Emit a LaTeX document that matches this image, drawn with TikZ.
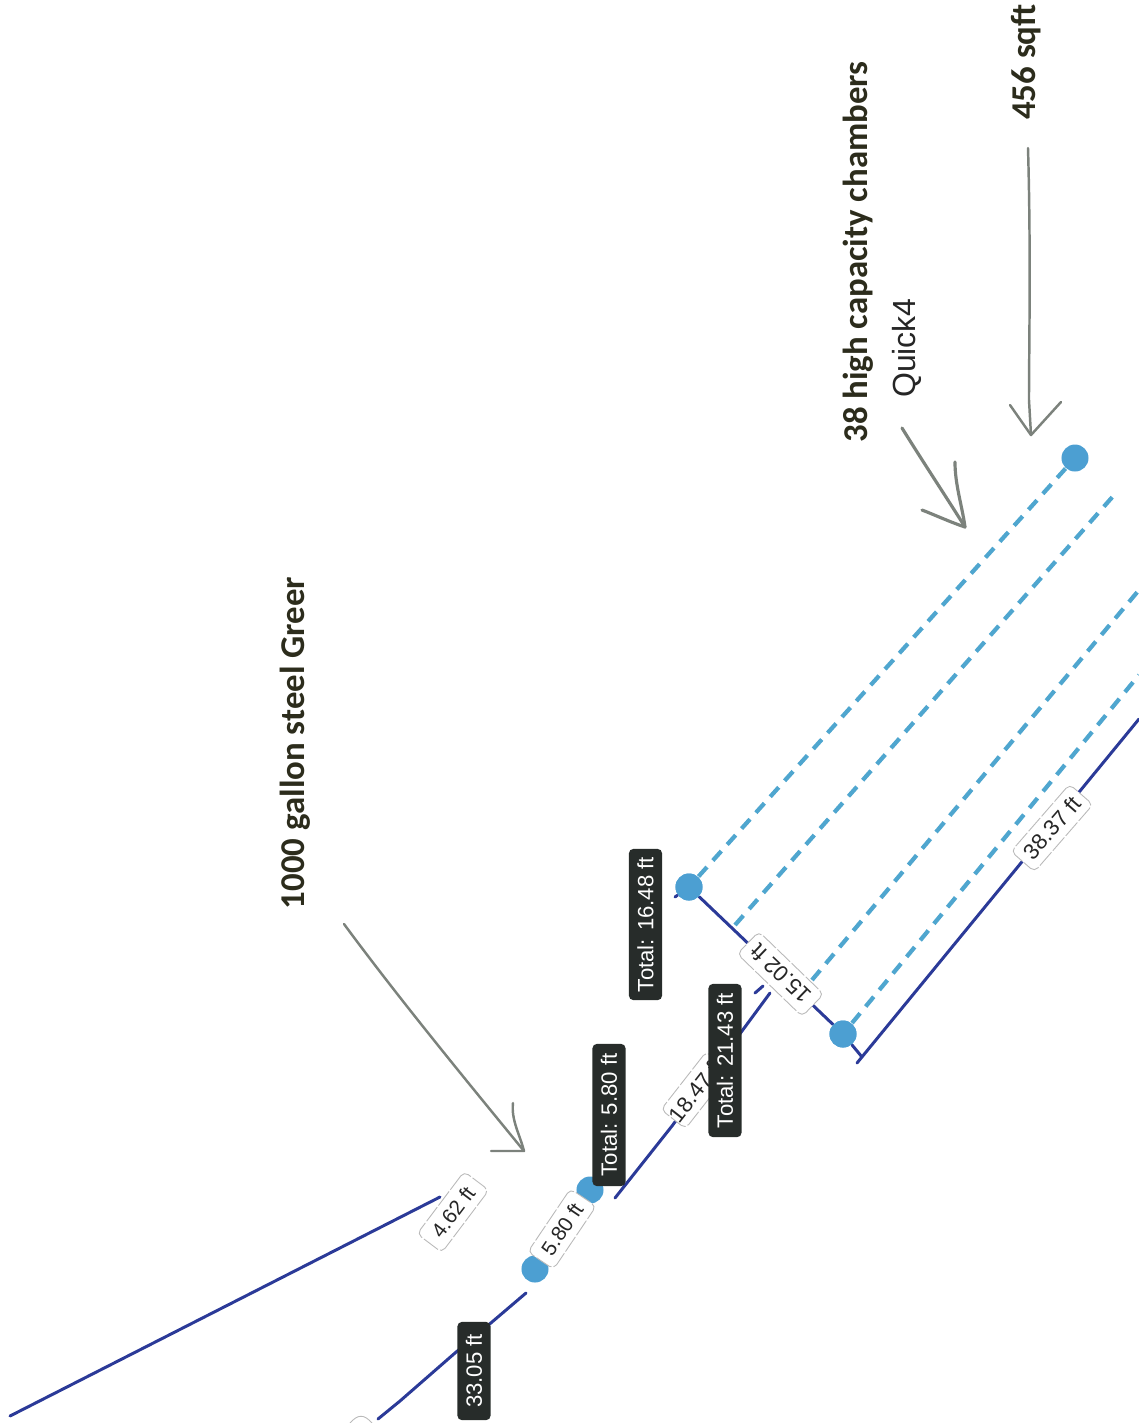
\documentclass[tikz,border=0pt]{standalone}
\usepackage{fontspec}
\setmainfont{Liberation Sans}
\newfontfamily\notefont{Carlito}
\definecolor{runblue}{HTML}{2B3A98}
\definecolor{chamberblue}{HTML}{4FA6CF}
\definecolor{dotblue}{HTML}{4C9FD2}
\definecolor{tagdark}{HTML}{272C2A}
\definecolor{penGray}{HTML}{7C827C}
\definecolor{noteink}{HTML}{2C2C1C}
\tikzset{
    run/.style={draw=runblue,line width=0.85pt,line cap=round},
    chamber/.style={draw=chamberblue,line width=1.2pt,dash pattern=on 3.6pt off 2.5pt},
    joint/.style={circle,fill=dotblue,minimum size=0.27cm,inner sep=0pt},
    tag/.style={fill=tagdark,text=white,rounded corners=1.2pt,rotate=90,font=\fontsize{6.3}{7}\selectfont,inner sep=0pt,minimum height=0.33cm},
    len/.style={draw=gray!55,line width=0.25pt,dash pattern=on 5pt off 0.6pt,fill=white,rounded corners=1.5pt,text=black!85,font=\fontsize{6.3}{7}\selectfont,inner sep=0pt,minimum height=0.31cm},
    lensmall/.style={len,font=\fontsize{5.9}{7}\selectfont},
    note/.style={rotate=90,text=noteink,font=\notefont\bfseries\fontsize{9.9}{11}\selectfont,inner sep=0pt},
    pen/.style={draw=penGray,line width=0.7pt,line cap=round,line join=round},
}
\begin{document}
\begin{tikzpicture}[x=0.01cm,y=-0.01cm]
            \useasboundingbox (0,0) rectangle (1138,1423);

            % long runs
            \coordinate (tankL) at (10,1416);
            \coordinate (tankLend) at (440,1197);
            \draw[run] (tankL)--(tankLend);
            \coordinate (mainA) at (378,1419);
            \coordinate (mainB) at (526,1293);
            \draw[run] (mainA)--(400,1401)--(455,1353)--(492,1322)--(mainB);
            \coordinate (mainC) at (615,1198);
            \coordinate (mainD) at (770,993);
            \draw[run] (mainC)--(672,1126)--(mainD);
            \draw[run] (755,993)--(763,986);

            % chambers
            \node[joint] (jointA) at (689,887) {};
            \node[joint] (jointB) at (1075,458) {};
            \node[joint] (jointC) at (843,1034) {};
            \coordinate (chamberBa) at (735,925);
            \coordinate (chamberBb) at (1115,494);
            \coordinate (chamberCa) at (812,980);
            \coordinate (chamberCb) at (1139,590);
            \coordinate (chamberDb) at (1139,675);
            \coordinate (corner) at (862,1057);
            \coordinate (edgeStart) at (857,1063);
            \coordinate (edgeEnd) at (1139,719);
            \draw[chamber] (jointA)--(jointB);
            \draw[chamber] (chamberBa)--(chamberBb);
            \draw[chamber] (chamberCa)--(chamberCb);
            \draw[chamber] (jointC)--(chamberDb);
            \draw[run] (675,897)--(jointA);
            \draw[run] (jointA)--(jointC)--(corner);
            \draw[run] (edgeStart)--(edgeEnd);
            \node[joint] at (jointA) {};
            \node[joint] at (jointC) {};

            % joints of the tank
            \node[joint] (jointD) at (535,1269) {};
            \node[joint] (jointE) at (590,1190) {};

            % lengths
            \node[lensmall,rotate=53,minimum width=0.78cm] (lenTank) at (453,1212) {4.62 ft};
            \node[lensmall,rotate=56,minimum width=0.76cm] (lenRun) at (562,1229) {5.80 ft};
            \node[len,rotate=52,minimum width=0.70cm] (lenMain) at (696,1090) {18.47 ft};
            \node[len,rotate=136,minimum width=0.90cm] (lenEnd) at (780.5,974) {15.02 ft};
            \node[len,rotate=49,minimum width=0.89cm] (lenSide) at (1052,828) {38.37 ft};
            \draw[draw=gray!55,line width=0.25pt] (350,1423) .. controls (358,1414) and (364,1414) .. (372,1423);

            % totals
            \node[tag,minimum width=1.51cm] (totalA) at (645.5,924.5) {Total: 16.48 ft};
            \node[tag,minimum width=1.53cm] (totalB) at (725,1060.5) {Total: 21.43 ft};
            \node[tag,minimum width=1.42cm] (totalC) at (609,1115) {Total: 5.80 ft};
            \node[tag,minimum width=0.98cm] (totalD) at (474,1371) {33.05 ft};

            % notes
            \node[note] (noteTank) at (295,743) {1000 gallon steel Greer};
            \node[note] (noteChamber) at (858,252) {38 high capacity chambers};
            \node[rotate=90,inner sep=0pt,text=black!85,font=\fontsize{9.1}{11}\selectfont] (noteQuick) at (907,348) {Quick4};
            \node[note] (noteArea) at (1026,62) {456 sqft};

            % pen arrows
            \coordinate (tipTank) at (524,1151);
            \coordinate (tipChamber) at (965,527);
            \coordinate (tipArea) at (1031,435);
            \draw[pen] (344,924) .. controls (400,1000) and (470,1085) .. (tipTank);
            \draw[pen] (513,1103) .. controls (511,1120) and (520,1135) .. (tipTank)--(491,1151);
            \draw[pen,line width=0.9pt] (902,428) .. controls (925,465) and (945,495) .. (tipChamber);
            \draw[pen,line width=0.9pt] (955,462) .. controls (955,485) and (962,505) .. (tipChamber) .. controls (950,522) and (935,515) .. (922,510);
            \draw[pen] (1028,148) .. controls (1031,250) and (1029,350) .. (1029,400)--(tipArea);
            \draw[pen] (1010,405)--(tipArea)--(1061,402);
\end{tikzpicture}
\end{document}
